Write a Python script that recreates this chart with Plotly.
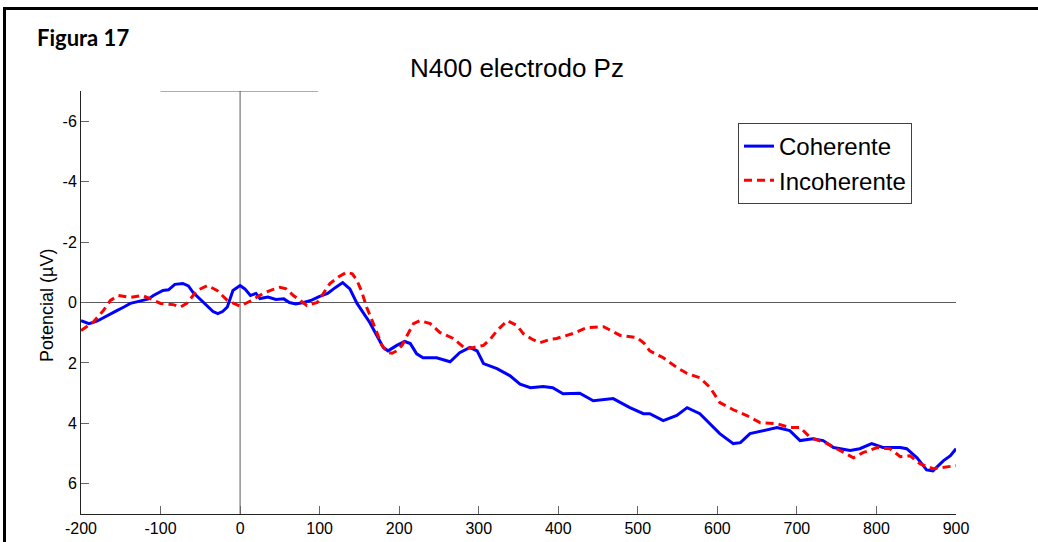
import plotly.graph_objects as go

# ---- data ----
t_coh = [-200, -190, -180, -172, -163, -155, -146, -138, -130, -122, -115, -109, -103, -97, -90, -82, -72, -65, -59, -50,
         -41, -34, -28, -22, -16, -9, 0, 6, 13, 20, 25, 35, 45, 55, 62, 70, 80, 90, 100, 110,
         120, 129, 138, 147, 163, 180, 186, 197, 207, 214, 222, 230, 247, 264, 276, 289, 298, 306, 323, 339,
         352, 365, 381, 393, 406, 427, 444, 469, 490, 507, 515, 532, 549, 562, 578, 591, 603, 620, 629, 641,
         658, 675, 691, 704, 720, 733, 746, 767, 779, 794, 808, 830, 838, 851, 863, 871, 884, 893, 900]
v_coh = [0.6, 0.7, 0.62, 0.5, 0.38, 0.27, 0.15, 0.03, -0.02, -0.07, -0.12, -0.23, -0.32, -0.4, -0.42, -0.6, -0.63, -0.55, -0.33, -0.1,
         0.15, 0.3, 0.37, 0.3, 0.15, -0.4, -0.56, -0.45, -0.23, -0.3, -0.13, -0.18, -0.1, -0.12, 0.0, 0.05, 0.0, -0.08, -0.2, -0.3,
         -0.5, -0.66, -0.45, 0.03, 0.66, 1.49, 1.6, 1.42, 1.29, 1.36, 1.7, 1.83, 1.83, 1.96, 1.66, 1.49, 1.6, 2.02, 2.19, 2.42,
         2.7, 2.82, 2.78, 2.82, 3.02, 3.0, 3.25, 3.18, 3.48, 3.68, 3.68, 3.91, 3.74, 3.48, 3.68, 4.01, 4.34, 4.67, 4.64, 4.34,
         4.24, 4.14, 4.24, 4.57, 4.51, 4.57, 4.8, 4.9, 4.84, 4.67, 4.8, 4.8, 4.84, 5.14, 5.54, 5.57, 5.24, 5.07, 4.84]

t_inc = [-200, -185, -172, -163, -153, -138, -123, -113, -100, -84, -75, -67, -54, -41, -29, -16, 0, 13, 29, 40,
         50, 58, 67, 76, 84, 97, 105, 113, 124, 134, 141, 147, 153, 159, 166, 172, 178, 185, 191, 197,
         204, 210, 218, 226, 239, 251, 268, 283, 293, 306, 315, 323, 336, 348, 356, 366, 377, 390, 398, 419,
         436, 457, 468, 478, 499, 508, 515, 532, 549, 562, 578, 591, 603, 620, 637, 654, 675, 691, 704, 717,
         738, 754, 771, 783, 801, 817, 830, 842, 855, 871, 888, 900]
v_inc = [0.93, 0.66, 0.27, -0.07, -0.23, -0.17, -0.23, -0.13, 0.03, 0.07, 0.15, 0.03, -0.4, -0.56, -0.4, -0.07, 0.12, -0.05, -0.3, -0.42,
         -0.5, -0.45, -0.23, -0.05, 0.1, 0.0, -0.3, -0.63, -0.85, -1.0, -0.95, -0.73, -0.35, 0.15, 0.6, 1.03, 1.4, 1.65, 1.68, 1.6,
         1.4, 1.09, 0.7, 0.6, 0.7, 0.99, 1.19, 1.52, 1.49, 1.42, 1.2, 0.93, 0.6, 0.76, 1.03, 1.2, 1.33, 1.22, 1.19, 1.02,
         0.83, 0.8, 0.95, 1.09, 1.16, 1.35, 1.6, 1.83, 2.15, 2.35, 2.49, 2.82, 3.31, 3.55, 3.74, 3.98, 4.01, 4.14, 4.14, 4.47,
         4.67, 4.9, 5.14, 4.97, 4.8, 4.84, 5.1, 5.07, 5.34, 5.5, 5.44, 5.4]

x_ticks = [-200, -100, 0, 100, 200, 300, 400, 500, 600, 700, 800, 900]
y_ticks = [-6, -4, -2, 0, 2, 4, 6]

# plot-area geometry in pixels (for paper conversions)
L, R, T, B = 81, 956, 91, 514
W, H = 1038, 542
def px(x):
    return (x - L) / (R - L)
def py(y):
    return (B - y) / (B - T)

fig = go.Figure()
fig.add_trace(go.Scatter(x=t_coh, y=v_coh, mode="lines", name="Coherente",
                         line=dict(color="#0000FF", width=3)))
fig.add_trace(go.Scatter(x=t_inc, y=v_inc, mode="lines", name="Incoherente",
                         line=dict(color="#FF0000", width=3, dash="8px,5px")))

ref_col = "#5a5a5a"
shapes = [
    dict(type="line", xref="x", yref="y", x0=-200, x1=900, y0=0, y1=0,
         line=dict(color=ref_col, width=1), layer="below"),
    dict(type="line", xref="x", yref="y", x0=0, x1=0, y0=-7, y1=7,
         line=dict(color=ref_col, width=1), layer="below"),
    dict(type="line", xref="x", yref="y", x0=-100, x1=98, y0=-7, y1=-7,
         line=dict(color=ref_col, width=1), layer="below"),
    # page frame
    dict(type="line", xref="paper", yref="paper", x0=px(3), x1=px(W), y0=py(8.5), y1=py(8.5),
         line=dict(color="black", width=3)),
    dict(type="line", xref="paper", yref="paper", x0=px(4.5), x1=px(4.5), y0=py(8.5), y1=py(W),
         line=dict(color="black", width=3)),
]

fig.update_layout(
    width=W, height=H,
    margin=dict(l=L, r=W - R, t=T, b=H - B, autoexpand=False),
    paper_bgcolor="white", plot_bgcolor="white",
    font=dict(family="Liberation Sans, Arial", color="black", size=16),
    showlegend=True,
    legend=dict(x=px(738), y=py(123), xanchor="left", yanchor="top",
                bordercolor="#404040", borderwidth=1, bgcolor="white",
                font=dict(size=24, family="Liberation Sans, Arial"),
                itemwidth=30, tracegroupgap=0),
    shapes=shapes,
    annotations=[
        dict(text="N400 electrodo Pz", xref="paper", yref="paper", x=px(517), y=py(68),
             xanchor="center", yanchor="middle", showarrow=False,
             font=dict(size=26, family="Liberation Sans, Arial")),
        dict(text="<b>Figura 17</b>", xref="paper", yref="paper", x=px(35), y=py(38),
             xanchor="left", yanchor="middle", showarrow=False,
             font=dict(size=22, family="Lato")),
        dict(text="Potencial (\u00b5V)", xref="paper", yref="paper", x=px(47), y=py(306),
             xanchor="center", yanchor="middle", showarrow=False, textangle=-90,
             font=dict(size=18, family="Liberation Sans, Arial")),
    ],
    xaxis=dict(range=[-200, 900], tickvals=x_ticks, ticktext=[str(v) for v in x_ticks],
               ticks="inside", ticklen=8, tickcolor="#666666", tickwidth=1, automargin=False,
               showline=True, linecolor="#222222", linewidth=1, showgrid=False, zeroline=False,
               tickfont=dict(size=16)),
    yaxis=dict(range=[7, -7], tickvals=y_ticks, ticktext=[str(v) for v in y_ticks],
               ticks="inside", ticklen=8, tickcolor="#666666", tickwidth=1, automargin=False,
               showline=True, linecolor="#222222", linewidth=1, showgrid=False, zeroline=False,
               tickfont=dict(size=16)),
)

fig.write_html("out.html")
